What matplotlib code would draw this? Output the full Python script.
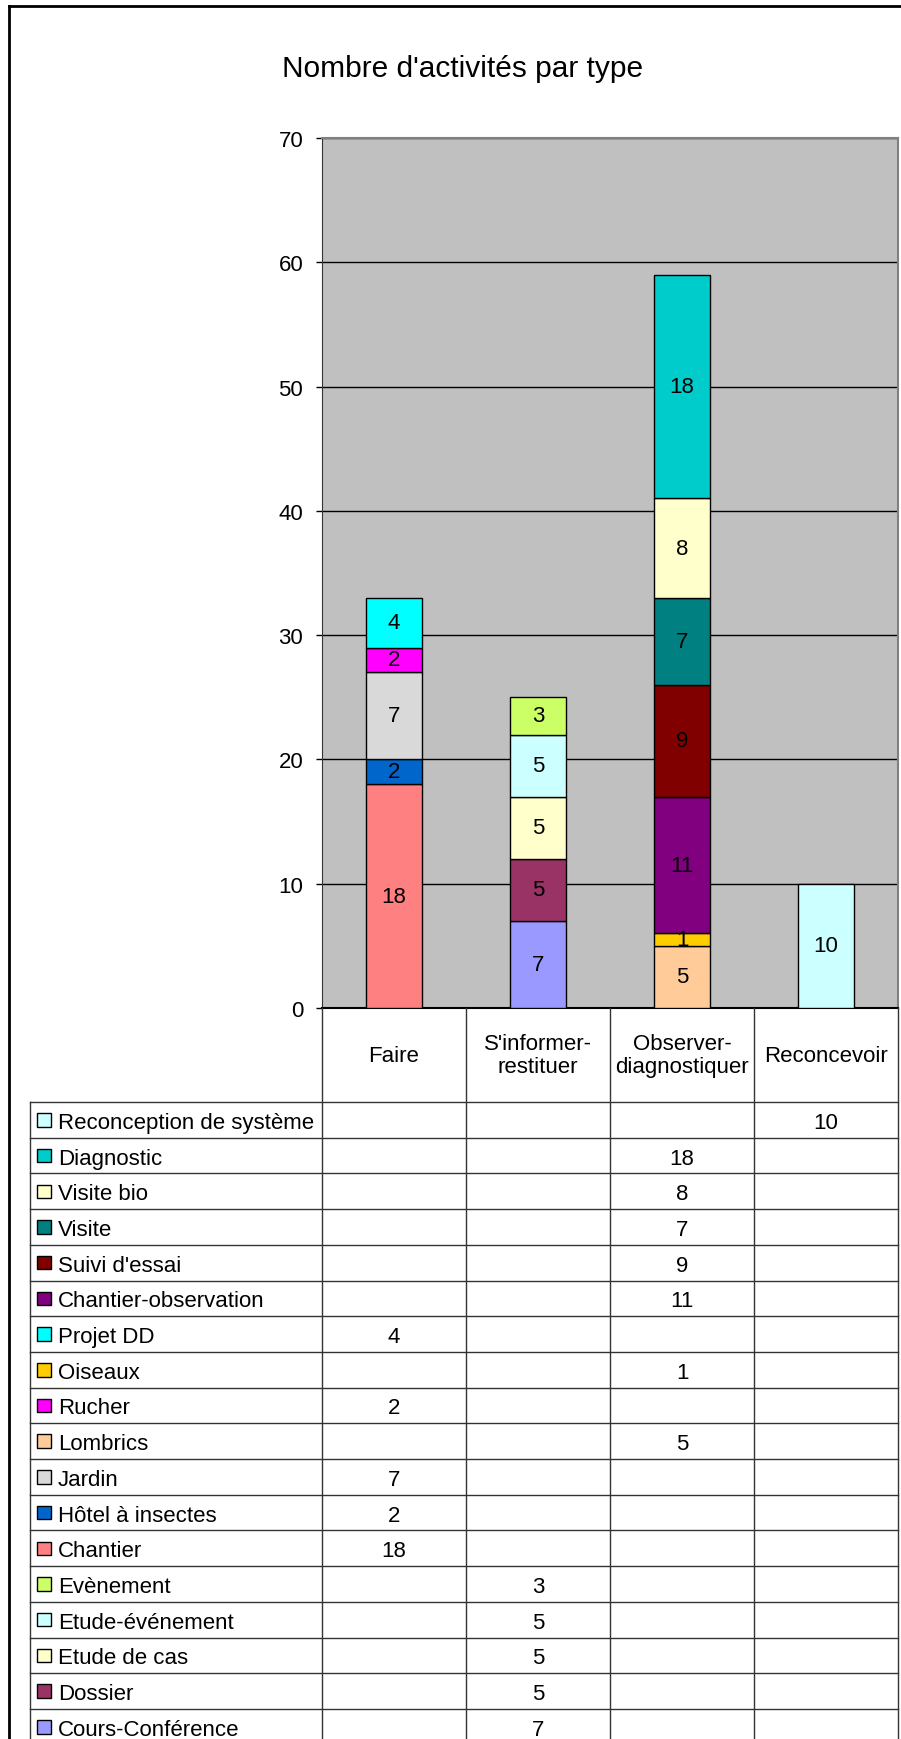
import matplotlib
matplotlib.use('Agg')
import matplotlib.pyplot as plt
from matplotlib.patches import Rectangle
from matplotlib.lines import Line2D

plt.rcParams['font.family'] = ['Liberation Sans', 'DejaVu Sans']

title = "Nombre d'activités par type"
categories = ['Faire', "S'informer-\nrestituer", 'Observer-\ndiagnostiquer', 'Reconcevoir']

# series in table order (top to bottom); bars are stacked from the last one up
series = ['Reconception de système', 'Diagnostic', 'Visite bio', 'Visite', "Suivi d'essai",
          'Chantier-observation', 'Projet DD', 'Oiseaux', 'Rucher', 'Lombrics', 'Jardin',
          'Hôtel à insectes', 'Chantier', 'Evènement', 'Etude-événement', 'Etude de cas',
          'Dossier', 'Cours-Conférence']
colors = ['#CCFFFF', '#00CCCC', '#FFFFCC', '#008080', '#800000', '#800080', '#00FFFF',
          '#FFCC00', '#FF00FF', '#FFCC99', '#D9D9D9', '#0066CC', '#FF8080', '#CCFF66',
          '#CCFFFF', '#FFFFCC', '#993366', '#9999FF']
# one row per series, one column per category (0 = empty cell)
values = [
    [0, 0, 0, 10],
    [0, 0, 18, 0],
    [0, 0, 8, 0],
    [0, 0, 7, 0],
    [0, 0, 9, 0],
    [0, 0, 11, 0],
    [4, 0, 0, 0],
    [0, 0, 1, 0],
    [2, 0, 0, 0],
    [0, 0, 5, 0],
    [7, 0, 0, 0],
    [2, 0, 0, 0],
    [18, 0, 0, 0],
    [0, 3, 0, 0],
    [0, 5, 0, 0],
    [0, 5, 0, 0],
    [0, 5, 0, 0],
    [0, 7, 0, 0],
]
yticks = [0, 10, 20, 30, 40, 50, 60, 70]

# layout in pixels
W, H = 901, 1740
L, R, T, B = 322, 898, 139, 1009
TL = 30        # left edge of the data table
HB = 1103      # bottom of the header row
RH = 35.7      # data row height
FS = 16

fig = plt.figure(figsize=(W / 100, H / 100), dpi=100)
fig.patch.set_facecolor('white')

ax = fig.add_axes([L / W, 1 - B / H, (R - L) / W, (B - T) / H])
ax.set_facecolor('#C0C0C0')

ncat = len(categories)
bottoms = [0] * ncat
for name, col, vals in reversed(list(zip(series, colors, values))):
    idx = [i for i in range(ncat) if vals[i]]
    if not idx:
        continue
    bars = ax.bar(idx, [vals[i] for i in idx], 0.39, bottom=[bottoms[i] for i in idx],
                  color=col, edgecolor='black', linewidth=1, zorder=3)
    ax.bar_label(bars, labels=[str(vals[i]) for i in idx], label_type='center',
                 fontsize=FS, zorder=4)
    for i in idx:
        bottoms[i] += vals[i]

ax.set_xlim(-0.5, ncat - 0.5)
ax.set_ylim(0, 70)
ax.set_yticks(yticks)
ax.set_xticks([])
ax.yaxis.grid(True, color='black', linewidth=1)
ax.set_axisbelow(True)
ax.tick_params(axis='y', direction='out', length=4.5, width=1, labelsize=FS, pad=9)
ax.spines['top'].set_color('#808080')
ax.spines['right'].set_color('#808080')
ax.spines['top'].set_linewidth(1.5)
ax.spines['right'].set_linewidth(1.5)
ax.spines['left'].set_color('#333333')
ax.spines['bottom'].set_linewidth(1.5)

fig.text(463 / W, 1 - 69 / H, title, ha='center', va='center', fontsize=21.5)

# data table below the plot, sharing the category columns
nrows = len(series)
header = (HB - B) / RH
bottom_px = HB + nrows * RH
unit = (R - L) / ncat
x_left = -0.5 - (L - TL) / unit
tax = fig.add_axes([TL / W, 1 - bottom_px / H, (R - TL) / W, (bottom_px - B) / H])
tax.set_xlim(x_left, ncat - 0.5)
tax.set_ylim(header + nrows, 0)
tax.axis('off')

lc = '#333333'
for k in range(ncat + 1):
    tax.plot([k - 0.5, k - 0.5], [0, header + nrows], color=lc, lw=1, clip_on=False)
tax.plot([x_left, x_left], [header, header + nrows], color=lc, lw=1, clip_on=False)
for r in range(nrows + 1):
    tax.plot([x_left, ncat - 0.5], [header + r, header + r], color=lc, lw=1, clip_on=False)

for i, cat in enumerate(categories):
    tax.text(i, header / 2, cat, ha='center', va='center', fontsize=FS, linespacing=1.1)

sw = 13.5
for r, (name, col, vals) in enumerate(zip(series, colors, values)):
    yc = header + r + 0.5
    tax.add_patch(Rectangle((x_left + 7 / unit, yc - sw / RH / 2), sw / unit, sw / RH,
                            facecolor=col, edgecolor='black', lw=1, clip_on=False))
    tax.text(x_left + 28 / unit, yc, name, ha='left', va='center_baseline', fontsize=FS)
    for i, v in enumerate(vals):
        if v:
            tax.text(i, yc, str(v), ha='center', va='center_baseline', fontsize=FS)

# outer chart border (right and bottom sides fall outside the picture)
fig.add_artist(Line2D([9 / W, 1], [1 - 7 / H, 1 - 7 / H], color='black', lw=2))
fig.add_artist(Line2D([9 / W, 9 / W], [1 - 7 / H, 0], color='black', lw=2))

fig.savefig('out.png', dpi=100)
